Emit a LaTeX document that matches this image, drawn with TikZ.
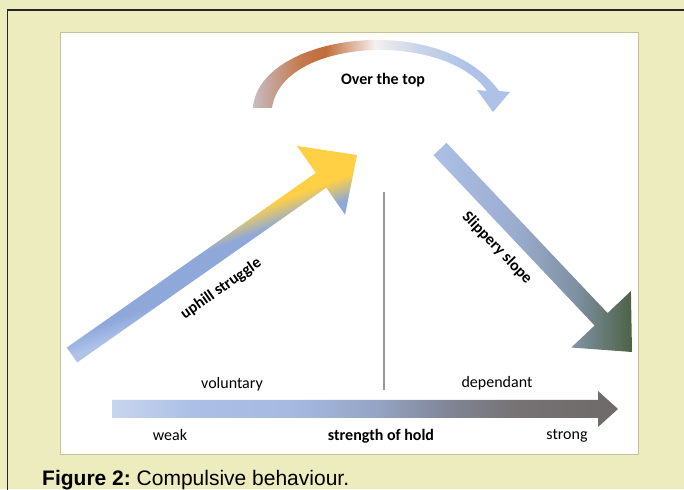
\documentclass[tikz,border=0pt]{standalone}
\usepackage{fontspec}
\setmainfont{Carlito}
\newfontfamily\captionfont{Liberation Sans}

% Page colours
\definecolor{paper}{RGB}{237,236,191}
\definecolor{paneledge}{RGB}{196,194,150}

% Colours of the gradients
\definecolor{holdA}{RGB}{201,213,237}
\definecolor{holdB}{RGB}{172,192,230}
\definecolor{holdC}{RGB}{166,186,226}
\definecolor{holdD}{RGB}{148,163,194}
\definecolor{holdE}{RGB}{128,132,148}
\definecolor{holdF}{RGB}{118,114,115}
\definecolor{holdG}{RGB}{110,106,106}
\definecolor{upLight}{RGB}{174,194,234}
\definecolor{upBlue}{RGB}{142,168,218}
\definecolor{upMix}{RGB}{200,190,140}
\definecolor{upYellow}{RGB}{255,208,68}
\definecolor{slopeA}{RGB}{172,192,230}
\definecolor{slopeB}{RGB}{154,172,206}
\definecolor{slopeC}{RGB}{126,144,160}
\definecolor{slopeD}{RGB}{76,98,70}
\definecolor{topA}{RGB}{198,188,194}
\definecolor{topB}{RGB}{196,124,80}
\definecolor{topC}{RGB}{193,108,58}
\definecolor{topD}{RGB}{244,240,238}
\definecolor{topE}{RGB}{200,211,232}
\definecolor{topF}{RGB}{174,194,232}

\pgfdeclarehorizontalshading{holdshade}{100bp}{color(0bp)=(holdA); color(25bp)=(holdA);
  color(32.7bp)=(holdB); color(42.6bp)=(holdC); color(51.5bp)=(holdD);
  color(58.4bp)=(holdE); color(65.3bp)=(holdF); color(75bp)=(holdG); color(100bp)=(holdG)}
\pgfdeclareverticalshading{uphillshade}{100bp}{color(0bp)=(upLight); color(40bp)=(upLight);
  color(44bp)=(upBlue); color(51bp)=(upBlue); color(53.5bp)=(upMix);
  color(56bp)=(upYellow); color(100bp)=(upYellow)}
\pgfdeclarehorizontalshading{slopeshade}{100bp}{color(0bp)=(slopeA); color(25bp)=(slopeA);
  color(46bp)=(slopeB); color(61bp)=(slopeC); color(75bp)=(slopeD); color(100bp)=(slopeD)}
\pgfdeclarehorizontalshading{topshade}{100bp}{color(0bp)=(topA); color(25bp)=(topA);
  color(34bp)=(topB); color(39bp)=(topC); color(48.7bp)=(topD);
  color(57.5bp)=(topE); color(67bp)=(topF); color(100bp)=(topF)}

\begin{document}
\begin{tikzpicture}[x=1pt, y=1pt, font=\fontsize{16}{19}\selectfont]
    \useasboundingbox (0,0) rectangle (684,489);
    \clip (0,0) rectangle (684,489);

    % Frame of the page
    \fill[paper] (0,0) rectangle (684,489);
    \draw[black!85, line width=1.4pt] (7.5,-20) -- (7.5,479) -- (700,479);
    \fill[white] (60,35) rectangle (638,457);
    \draw[paneledge, line width=0.8pt] (60,35) rectangle (638,457);

    % Strength of hold (bottom arrow)
    \coordinate (HoldTail) at (112,80);
    \coordinate (HoldTip) at (618,80);
    \shade[shading=holdshade] (112,71) -- (598,71) -- (598,62) -- (HoldTip)
        -- (598,98) -- (598,89) -- (112,89) -- cycle;
    \node (voluntary) at (232,105) {voluntary};
    \node (dependant) at (497,106) {dependant};
    \node (weak) at (170,54) {weak};
    \node[font=\fontsize{16}{19}\selectfont\bfseries] (hold) at (381,53) {strength of hold};
    \node (strong) at (567,53) {strong};

    % Divider between voluntary and dependant
    \coordinate (DivTop) at (384,297);
    \coordinate (DivBot) at (384,99);
    \draw[gray!80, line width=1.1pt] (DivTop) -- (DivBot);

    % Uphill struggle
    \coordinate (UpTail) at (72,134);
    \coordinate (UpTip) at (357,334);
    \shade[shading=uphillshade, shading angle=20] (66.8,141.4) -- (315.8,316.1)
        -- (296.9,343.1) -- (UpTip) -- (345.1,274.3) -- (326.2,301.3) -- (77.2,126.6) -- cycle;
    \node[rotate=35, font=\fontsize{16}{19}\selectfont\bfseries] (uphill) at (221,200) {uphill struggle};

    % Slippery slope
    \coordinate (SlopeTail) at (440,340);
    \coordinate (SlopeTip) at (632,137);
    \shade[shading=slopeshade] (433.5,333.8) -- (446.5,346.2) -- (607.6,175.9)
        -- (630.9,197.9) -- (SlopeTip) -- (571.3,141.5) -- (594.6,163.5) -- cycle;
    \node[rotate=-46, font=\fontsize{16}{19}\selectfont\bfseries] (slope) at (497,241) {Slippery slope};

    % Over the top (curved arrow)
    \coordinate (TopTip) at (493,377);
    \shade[shading=topshade] (253,381) .. controls (258,455) and (440,480) .. (499,398)
        -- (510,397) -- (TopTip) -- (477,399) -- (487,398)
        .. controls (445,458) and (282,452) .. (272,381) -- cycle;
    \node[font=\fontsize{16}{19}\selectfont\bfseries] (overtop) at (383,409) {Over the top};

    % Caption
    \node[anchor=base west, inner sep=0pt, font=\captionfont\fontsize{21}{24}\selectfont]
        (caption) at (42,3) {\textbf{Figure 2:}~Compulsive behaviour.};
\end{tikzpicture}
\end{document}
